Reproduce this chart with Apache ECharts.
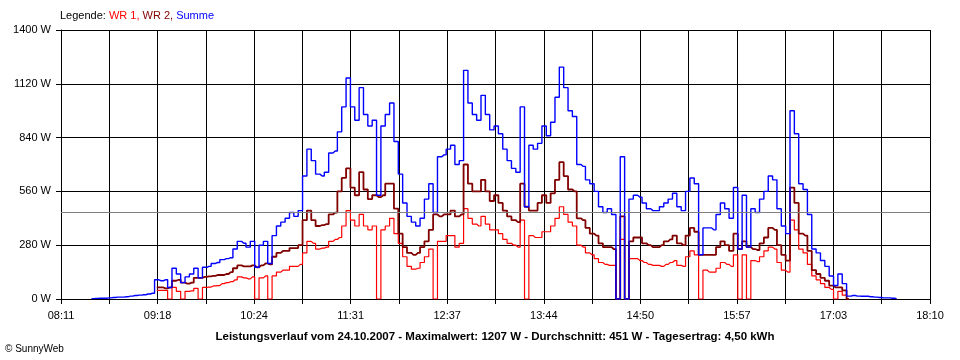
<!DOCTYPE html>
<html><head><meta charset="utf-8">
<script src="https://cdn.jsdelivr.net/npm/echarts@6/dist/echarts.min.js"></script>
<style>html,body{margin:0;padding:0;background:#fff}#c{width:960px;height:360px}</style>
</head><body><div id="c"></div>
<script>
// x axis: minutes after 08:11, axis ends at 18:10 (599 min), 18 tick intervals, label on every 2nd
const tickLabels = ['08:11','09:18','10:24','11:31','12:37','13:44','14:50','15:57','17:03','18:10'];
const axisSpanMin = 599;
const tickCount = 18;
// samples every 3 minutes starting 08:32
const sampleStartMin = 21;
const sampleStepMin = 3;
const average = 451;

const summe = [2,3,4,4,6,8,10,10,12,15,18,20,22,26,30,
100,95,100,60,160,130,85,115,130,160,110,165,170,185,190,205,210,215,260,300,290,270,300,165,280,300,185,330,380,400,420,450,430,460,
640,780,720,650,640,660,760,770,870,1000,1150,1000,930,1100,960,900,930,540,900,960,1020,820,650,500,430,400,380,420,520,600,450,
740,750,780,800,700,720,1190,1020,960,930,1060,960,880,900,860,780,720,680,660,1000,480,800,780,810,900,850,920,1050,1207,1100,
980,950,700,690,620,600,560,480,450,470,440,0,740,0,520,540,530,500,470,460,460,480,500,520,550,480,460,560,630,600,
230,370,370,360,440,500,470,420,580,260,540,270,470,450,520,560,640,620,470,380,340,980,860,600,570,440,260,240,200,170,120,70,130,80,
15,18,15,14,14,12,10,8,6,6,4,2];

const wrStart = 15; // WR arrays begin at sample 15 (09:17)
const wr2 = [60,60,55,60,95,100,85,80,85,110,110,115,118,120,125,125,130,140,160,175,170,170,175,165,175,185,180,220,240,250,250,265,265,280,
410,460,410,380,385,390,440,450,560,630,680,580,540,660,570,520,540,530,540,600,600,470,340,270,240,230,240,270,300,360,440,
430,440,440,460,430,440,700,600,560,560,620,560,510,540,500,460,430,410,400,600,480,460,460,500,540,500,550,620,712,640,
570,560,420,410,370,340,330,290,270,270,260,0,430,0,300,320,320,290,280,270,270,280,300,310,330,290,280,330,370,350,
230,230,230,230,270,300,280,250,340,260,300,270,260,255,290,320,370,360,280,230,200,580,500,340,330,250,150,130,110,95,70,60,60,45,0];

const wr1 = [45,45,45,0,60,40,0,40,42,55,0,60,62,68,70,80,85,90,100,115,110,105,115,0,110,120,0,120,140,150,150,170,170,180,
240,300,290,260,265,270,300,310,320,380,460,410,380,440,380,360,380,0,360,380,420,340,290,220,170,155,160,190,220,260,0,
300,300,330,330,270,290,470,420,390,380,430,390,360,360,340,310,290,280,270,410,0,330,320,320,350,350,380,420,480,440,
400,380,280,270,240,230,210,190,180,175,175,0,310,0,210,210,200,190,180,175,175,170,180,190,200,175,170,220,250,230,
0,150,140,140,160,190,180,170,230,0,230,0,200,195,220,250,270,260,190,150,140,410,360,260,240,180,120,100,80,60,50,0,40,20,0];

const FONT = "'Liberation Sans', Arial, sans-serif";
const tInterval = axisSpanMin / tickCount;
const timeAt = i => sampleStartMin + i * sampleStepMin;
const sumData = summe.map((v, i) => [timeAt(i), v]);
const wr1Data = wr1.map((v, i) => [timeAt(i + wrStart), v]);
const wr2Data = wr2.map((v, i) => [timeAt(i + wrStart), v]);

const chart = echarts.init(document.getElementById('c'), null, {renderer: 'canvas'});
chart.setOption({
  animation: false,
  backgroundColor: '#ffffff',
  grid: {left: 61, right: 30, top: 30, bottom: 61, containLabel: false},
  xAxis: {
    type: 'value', min: 0, max: axisSpanMin, interval: tInterval,
    axisLine: {show: true, lineStyle: {color: '#000', width: 1}},
    axisTick: {show: true, length: 5, lineStyle: {color: '#000', width: 1}},
    splitLine: {show: true, lineStyle: {color: '#000', width: 1}},
    axisLabel: {
      color: '#000', fontSize: 11, fontFamily: FONT, margin: 11,
      formatter: v => { const k = Math.round(v / tInterval); return k % 2 === 0 ? (tickLabels[k / 2] || '') : ''; }
    }
  },
  yAxis: {
    type: 'value', min: 0, max: 1400, interval: 280,
    axisLine: {show: true, lineStyle: {color: '#000', width: 1}},
    axisTick: {show: true, length: 5, lineStyle: {color: '#000', width: 1}},
    splitLine: {show: true, lineStyle: {color: '#000', width: 1}},
    axisLabel: {color: '#000', fontSize: 11, fontFamily: FONT, margin: 10, formatter: v => v + ' W'}
  },
  series: [
    {type: 'line', data: [], z: 1, silent: true,
     markLine: {silent: true, symbol: 'none', label: {show: false},
       lineStyle: {color: '#808080', type: 'solid', width: 1}, data: [{yAxis: average}]}},
    {name: 'WR 1', type: 'line', data: wr1Data, step: 'middle', showSymbol: false, z: 2,
     lineStyle: {color: '#ff0000', width: 1.2}},
    {name: 'WR 2', type: 'line', data: wr2Data, step: 'middle', showSymbol: false, z: 3,
     lineStyle: {color: '#800000', width: 1.8}},
    {name: 'Summe', type: 'line', data: sumData, step: 'middle', showSymbol: false, z: 4,
     lineStyle: {color: '#0000ff', width: 1.4}}
  ],
  graphic: [
    {type: 'text', x: 60, y: 16, style: {
      text: '{k|Legende: }{a|WR 1, }{b|WR 2, }{c|Summe}', verticalAlign: 'middle',
      font: '11px ' + FONT,
      rich: {k: {fill: '#000', fontSize: 11, fontFamily: FONT}, a: {fill: '#ff0000', fontSize: 11, fontFamily: FONT},
             b: {fill: '#800000', fontSize: 11, fontFamily: FONT}, c: {fill: '#0000ff', fontSize: 11, fontFamily: FONT}}
    }},
    {type: 'text', x: 495, y: 337, style: {
      text: 'Leistungsverlauf vom 24.10.2007 - Maximalwert: 1207 W - Durchschnitt: 451 W - Tagesertrag: 4,50 kWh',
      align: 'center', verticalAlign: 'middle', fill: '#000',
      font: "bold 11.5px 'Liberation Sans', Arial, sans-serif"
    }},
    {type: 'text', x: 5, y: 349, style: {
      text: '© SunnyWeb', verticalAlign: 'middle', fill: '#000', font: '10px ' + FONT
    }}
  ]
});
</script></body></html>
